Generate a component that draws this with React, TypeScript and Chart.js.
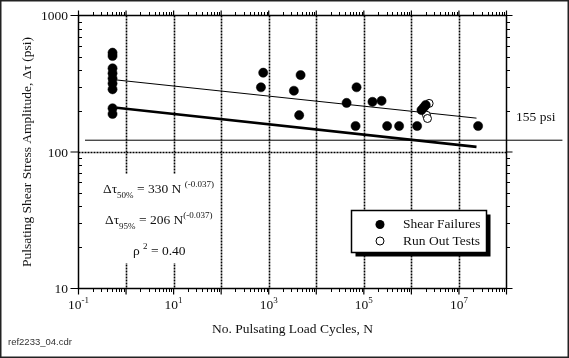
import React, { useEffect, useRef } from "react";
import { Chart, registerables } from "chart.js";
Chart.register(...registerables);

// ---- data ----
const shearN = [0.52, 0.52, 0.52, 0.52, 0.52, 0.52, 0.52, 0.52, 0.52,
  766, 686, 4680, 3380, 4370, 43400, 70300, 67000, 152000, 236000, 309000, 552000, 1320000,
  1630000, 1820000, 2000000, 25300000];
const shearS = [534, 505, 410, 377, 346, 318, 288, 209, 190,
  381, 298, 366, 281, 186, 229, 298, 155, 233, 237, 155, 155, 155,
  203, 212, 221, 155];
const runN = [2360000, 2080000, 2180000];
const runS = [227, 186, 176];
const fit50N = [0.635, 23400000];
const fit50S = [337, 177];
const fit95N = [0.635, 23400000];
const fit95S = [211, 109];
const limitN = [0.137, 1500000000];
const limitS = [122, 122];
const xLabelExps = [-1, 1, 3, 5, 7];
const xDecadeExps = [-1, 0, 1, 2, 3, 4, 5, 6, 7, 8];
const yDecades = [10, 100, 1000];
const xGrid = [1, 10, 100, 1000, 10000, 100000, 1000000, 10000000];
const yGrid = [100];

const SERIF = '"Liberation Serif", "Times New Roman", serif';

type Seg = { t: string; size: number; dy: number };

function richWidth(ctx: CanvasRenderingContext2D, segs: Seg[]) {
  let w = 0;
  for (const s of segs) {
    ctx.font = `${s.size}px ${SERIF}`;
    w += ctx.measureText(s.t).width;
  }
  return w;
}
function drawRich(ctx: CanvasRenderingContext2D, x: number, y: number, segs: Seg[]) {
  let cx = x;
  ctx.textBaseline = "alphabetic";
  ctx.textAlign = "left";
  for (const s of segs) {
    ctx.font = `${s.size}px ${SERIF}`;
    ctx.fillText(s.t, cx, y + s.dy);
    cx += ctx.measureText(s.t).width;
  }
}

const decor = {
  id: "decor",
  beforeDraw(chart: any) {
    const ctx = chart.ctx;
    ctx.save();
    ctx.fillStyle = "#fff";
    ctx.fillRect(0, 0, chart.width, chart.height);
    ctx.restore();
  },
  beforeDatasetsDraw(chart: any) {
    const ctx: CanvasRenderingContext2D = chart.ctx;
    const { left, right, top, bottom } = chart.chartArea;
    const xs = chart.scales.x;
    const ys = chart.scales.y;
    ctx.save();
    ctx.strokeStyle = "#000";
    ctx.lineWidth = 1.6;
    ctx.setLineDash([2, 1]);
    for (const v of xGrid) {
      const px = Math.round(xs.getPixelForValue(v)) + 0.5;
      ctx.beginPath();
      ctx.moveTo(px, top);
      ctx.lineTo(px, bottom);
      ctx.stroke();
    }
    for (const v of yGrid) {
      const py = Math.round(ys.getPixelForValue(v)) + 0.5;
      ctx.beginPath();
      ctx.moveTo(left, py);
      ctx.lineTo(right, py);
      ctx.stroke();
    }
    ctx.setLineDash([]);
    // white background behind the annotation text
    ctx.fillStyle = "#fff";
    ctx.fillRect(98, 174, 118, 89);
    ctx.restore();
  },
  afterDatasetsDraw(chart: any) {
    const ctx: CanvasRenderingContext2D = chart.ctx;
    const { left, right, top, bottom } = chart.chartArea;
    const xs = chart.scales.x;
    const ys = chart.scales.y;
    ctx.save();
    ctx.strokeStyle = "#000";
    ctx.fillStyle = "#000";
    // axis frame
    ctx.lineWidth = 1.5;
    ctx.strokeRect(left, top, right - left, bottom - top);
    // major ticks (outward)
    ctx.lineWidth = 1.2;
    for (const e of xDecadeExps) {
      const px = xs.getPixelForValue(Math.pow(10, e));
      ctx.beginPath();
      ctx.moveTo(px, bottom);
      ctx.lineTo(px, bottom + 6);
      ctx.moveTo(px, top);
      ctx.lineTo(px, top - 5);
      ctx.stroke();
    }
    for (const v of yDecades) {
      const py = ys.getPixelForValue(v);
      ctx.beginPath();
      ctx.moveTo(left - 8, py);
      ctx.lineTo(left, py);
      ctx.moveTo(right, py);
      ctx.lineTo(right + 6, py);
      ctx.stroke();
    }
    // minor ticks
    ctx.lineWidth = 1;
    for (let e = -1; e < 8; e++) {
      for (let k = 2; k <= 9; k++) {
        const px = Math.round(xs.getPixelForValue(k * Math.pow(10, e))) + 0.5;
        ctx.beginPath();
        ctx.moveTo(px, bottom);
        ctx.lineTo(px, bottom + 3.5);
        ctx.moveTo(px, top);
        ctx.lineTo(px, top - 3.5);
        ctx.stroke();
      }
    }
    for (let e = 1; e < 3; e++) {
      for (let k = 2; k <= 9; k++) {
        const py = Math.round(ys.getPixelForValue(k * Math.pow(10, e))) + 0.5;
        ctx.beginPath();
        ctx.moveTo(left, py);
        ctx.lineTo(left + 3.5, py);
        ctx.moveTo(right, py);
        ctx.lineTo(right + 3.5, py);
        ctx.stroke();
      }
    }
    // x tick labels
    ctx.fillStyle = "#111";
    for (const e of xLabelExps) {
      const px = xs.getPixelForValue(Math.pow(10, e));
      const segs: Seg[] = [
        { t: "10", size: 13.5, dy: 0 },
        { t: e < 0 ? "-" + Math.abs(e) : String(e), size: 9, dy: -6 },
      ];
      const w = richWidth(ctx, segs);
      drawRich(ctx, px - w / 2, 309, segs);
    }
    // y tick labels
    ctx.font = `13.5px ${SERIF}`;
    ctx.textAlign = "right";
    ctx.textBaseline = "middle";
    for (const v of yDecades) {
      ctx.fillText(String(v), 68, ys.getPixelForValue(v) + 1);
    }
    // axis titles
    ctx.textAlign = "center";
    ctx.fillText("No. Pulsating Load Cycles, N", (left + right) / 2, 329);
    ctx.save();
    ctx.translate(27, (top + bottom) / 2);
    ctx.rotate(-Math.PI / 2);
    ctx.fillText("Pulsating Shear Stress Amplitude, \u0394\u03c4 (psi)", 0, 0);
    ctx.restore();
    // 155 psi label
    ctx.textAlign = "left";
    ctx.fillText("155 psi", 516, 117);
    // annotations
    drawRich(ctx, 103, 193, [
      { t: "\u0394\u03c4", size: 13.5, dy: 0 },
      { t: "50%", size: 9, dy: 4.5 },
      { t: " = 330 N ", size: 13.5, dy: 0 },
      { t: "(-0.037)", size: 9, dy: -6 },
    ]);
    drawRich(ctx, 105, 224, [
      { t: "\u0394\u03c4", size: 13.5, dy: 0 },
      { t: "95%", size: 9, dy: 4.5 },
      { t: " = 206 N", size: 13.5, dy: 0 },
      { t: "(-0.037)", size: 9, dy: -6 },
    ]);
    drawRich(ctx, 133, 255, [
      { t: "\u03c1 ", size: 13.5, dy: 0 },
      { t: "2", size: 9, dy: -6 },
      { t: " = 0.40", size: 13.5, dy: 0 },
    ]);
    // legend
    ctx.fillStyle = "#000";
    ctx.fillRect(355.5, 214.5, 135, 42);
    ctx.fillStyle = "#fff";
    ctx.fillRect(351.5, 210.5, 135, 42);
    ctx.lineWidth = 1.5;
    ctx.strokeRect(351.5, 210.5, 135, 42);
    ctx.fillStyle = "#000";
    ctx.beginPath();
    ctx.arc(380, 224.5, 4.5, 0, Math.PI * 2);
    ctx.fill();
    ctx.lineWidth = 1;
    ctx.beginPath();
    ctx.arc(380, 241, 4, 0, Math.PI * 2);
    ctx.stroke();
    ctx.fillStyle = "#111";
    ctx.font = `13.5px ${SERIF}`;
    ctx.textBaseline = "middle";
    ctx.fillText("Shear Failures", 403, 224.5);
    ctx.fillText("Run Out Tests", 403, 241);
    // file name
    ctx.font = `9.5px "Liberation Sans", Arial, sans-serif`;
    ctx.fillStyle = "#333";
    ctx.fillText("ref2233_04.cdr", 8, 342);
    // outer frame
    ctx.strokeStyle = "#222";
    ctx.lineWidth = 1.5;
    ctx.strokeRect(0.75, 0.75, chart.width - 1.5, chart.height - 1.5);
    ctx.restore();
  },
};

export default function App() {
  const ref = useRef<HTMLCanvasElement>(null);
  useEffect(() => {
    if (!ref.current) return;
    const pts = (xs: number[], ys: number[]) => xs.map((x, i) => ({ x, y: ys[i] }));
    const chart = new Chart(ref.current, {
      type: "scatter",
      data: {
        datasets: [
          {
            label: "Shear Failures",
            data: pts(shearN, shearS),
            pointRadius: 4.6,
            pointBackgroundColor: "#000",
            pointBorderColor: "#000",
            pointBorderWidth: 0.5,
          },
          {
            label: "Run Out Tests",
            data: pts(runN, runS),
            pointRadius: 4,
            pointBackgroundColor: "#fff",
            pointBorderColor: "#000",
            pointBorderWidth: 1,
          },
          {
            label: "50%",
            data: pts(fit50N, fit50S),
            showLine: true,
            pointRadius: 0,
            borderColor: "#000",
            borderWidth: 1,
          },
          {
            label: "95%",
            data: pts(fit95N, fit95S),
            showLine: true,
            pointRadius: 0,
            borderColor: "#000",
            borderWidth: 2.6,
          },
          {
            label: "155 psi",
            data: pts(limitN, limitS),
            showLine: true,
            pointRadius: 0,
            borderColor: "#000",
            borderWidth: 1,
            clip: false,
          } as any,
        ],
      },
      options: {
        responsive: false,
        animation: false,
        layout: { padding: { left: 78.5, right: 62.5, top: 15.5, bottom: 69.5 } },
        plugins: { legend: { display: false }, tooltip: { enabled: false } },
        scales: {
          x: { type: "logarithmic", min: 0.1, max: 100000000, display: false },
          y: { type: "logarithmic", min: 10, max: 1000, display: false },
        },
      },
      plugins: [decor],
    });
    return () => chart.destroy();
  }, []);
  return (
    <div style={{ position: "fixed", left: 0, top: 0, width: 569, height: 358 }}>
      <canvas ref={ref} width={569} height={358} style={{ display: "block", width: 569, height: 358 }} />
    </div>
  );
}
